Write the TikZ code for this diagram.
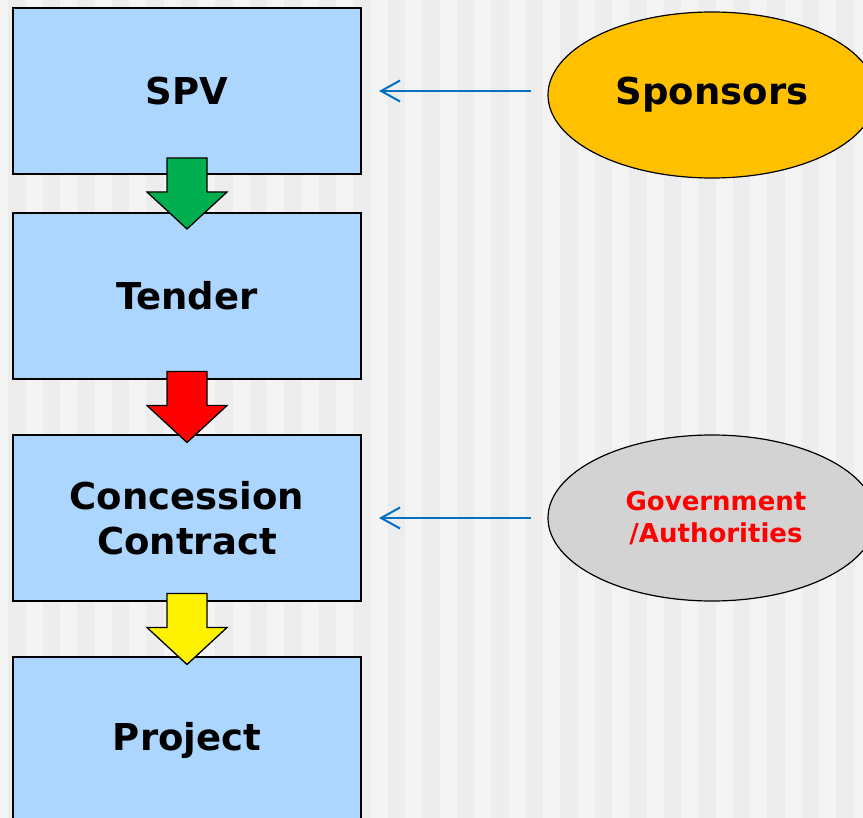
\documentclass[tikz,border=0pt]{standalone}
\usepackage{fontspec}
\setmainfont{DejaVu Sans}
\usepackage{tikz}
\usetikzlibrary{
    positioning,
    arrows.meta,
    shapes.geometric,
    calc
}
\definecolor{BoxBlue}{RGB}{173,214,255}
\definecolor{SponsorGold}{RGB}{255,192,0}
\definecolor{GovGray}{RGB}{211,211,211}
\definecolor{LinkBlue}{RGB}{0,112,192}
\definecolor{ArrowGreen}{RGB}{0,176,80}
\definecolor{StripeLight}{RGB}{244,244,244}
\definecolor{StripeDark}{RGB}{237,237,237}

\begin{document}
\begin{tikzpicture}[
    x=1pt, y=-1pt,
    stage/.style={rectangle, draw, line width=1.5pt, outer sep=0pt, fill=BoxBlue, align=center, font=\fontsize{37}{45}\selectfont\bfseries, minimum width=348pt, minimum height=166pt},
    party/.style={ellipse, draw, line width=1.2pt, outer sep=0pt, align=center, inner sep=0pt, minimum width=328pt, minimum height=166pt},
    feed/.style={line width=2pt, color=LinkBlue, -{Straight Barb[length=19pt, width=21pt]}, shorten <=17pt, shorten >=18pt},
    pics/fatarrow/.style={code={
        \draw[line width=1.3pt, fill=#1] (-20,-35.5) -- (20,-35.5) -- (20,-1.5) -- (40,-1.5) -- (0,35.5) -- (-40,-1.5) -- (-20,-1.5) -- cycle;
    }},
]
\useasboundingbox (0,0) rectangle (863,818);
\clip (0,0) rectangle (863,818);
% striped backdrop
\fill[StripeLight] (0,0) rectangle (863,818);
\foreach \i in {0,...,24}
    \fill[StripeDark] ({8+34.5*\i},0) rectangle ++(17.5,818);

\node[stage] (spv) at (187,91) {SPV};
\node[stage, below=39pt of spv] (tender) {Tender};
\node[stage, below=56pt of tender] (contract) {Concession\\Contract};
\node[stage, below=56pt of contract] (project) {Project};

\node[party, fill=SponsorGold, font=\fontsize{37}{45}\selectfont\bfseries] (sponsors) at (712,95) {\raisebox{-4pt}{Sponsors}};
\node[party, fill=GovGray, text=red, font=\fontsize{26}{32}\selectfont\bfseries] (gov) at (712,518) {\hspace*{8pt}Government\\\hspace*{8pt}/Authorities};

\pic at ($(spv.south)!0.5!(tender.north)$) {fatarrow=ArrowGreen};
\pic at ($(tender.south)!0.5!(contract.north)$) {fatarrow=red};
\pic at ($(contract.south)!0.5!(project.north)$) {fatarrow=yellow};

\draw[feed] (sponsors.west |- spv.east) -- (spv.east);
\draw[feed] (gov.west |- contract.east) -- (contract.east);
\end{tikzpicture}
\end{document}
